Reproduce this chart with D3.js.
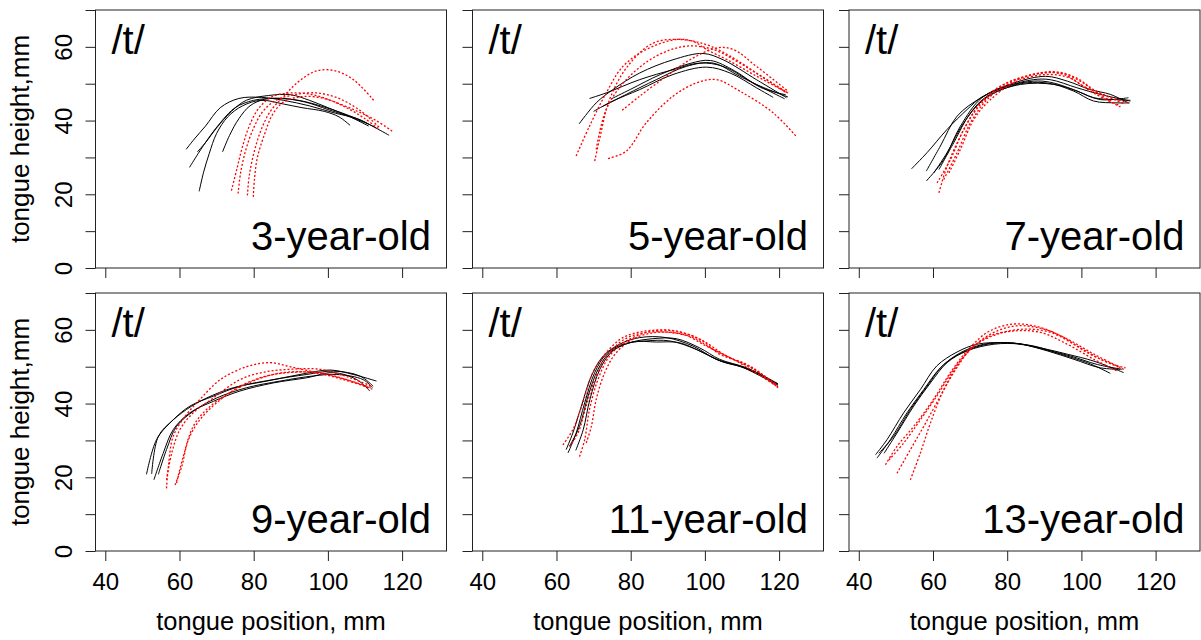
<!DOCTYPE html>
<html>
<head>
<meta charset="utf-8">
<script src="https://cdn.jsdelivr.net/npm/d3@7"></script>
<style>
    body { margin: 0; background: #fff; }
    #wrapper { width: 1201px; height: 640px; }
</style>
</head>
<body>
<div id="wrapper"></div>
<script>
const ageLabels = ['3-year-old', '5-year-old', '7-year-old', '9-year-old', '11-year-old', '13-year-old']
const soundLabel = '/t/'
const xTicks = [40, 60, 80, 100, 120]
const yTicks = [0, 10, 20, 30, 40, 50, 60, 70]
const yTickLabels = [0, 20, 40, 60]

// [tongue position, tongue height] in mm
const age3Black = [
    [[61.8, 32.2], [64, 35], [67, 38.5], [71, 43.5], [76, 46], [82, 46.3], [88, 45.5], [95, 44], [102, 42], [108, 40.5], [112, 38.5], [116.5, 36]],
    [[62.7, 27.3], [65, 31], [68, 35.5], [71.5, 40], [75, 43.5], [80, 45.5], [86, 46], [92, 45.5], [98, 44], [104, 42], [109, 40], [113, 38]],
    [[65.3, 20.8], [66.5, 26], [68, 31], [70, 36.5], [73, 41], [77, 44], [82, 45.5], [88, 44.5], [93, 43.5], [99, 42.5], [103, 41], [106, 38.7]],
    [[64.8, 31.5], [67, 34], [70, 38], [74, 42.5], [78, 45.5], [84, 46.8], [90, 47], [95, 45.5], [100, 43.5], [106, 41], [111, 38.5]],
    [[71.6, 31.5], [73.5, 36], [76, 40.5], [79, 44], [83, 45.8], [88, 46], [94, 45], [100, 43], [106, 41], [111, 39]]
]
const age3Red = [
    [[74, 21], [75.5, 27], [77, 33], [79, 39], [81.5, 43.5], [85, 46.5], [90, 47.5], [96, 47], [102, 45], [108, 42.5], [113, 40], [117.5, 37]],
    [[75.8, 20.2], [76.5, 26], [78, 32.5], [80, 38], [82.5, 42.5], [86, 45.5], [91, 47], [97, 47.5], [103, 46], [109, 42.5], [114, 38]],
    [[78.3, 19.7], [78.8, 25], [80, 31], [82, 37.5], [84.5, 42.5], [88, 46.5], [92, 50.5], [97, 53.5], [102, 53.5], [107, 51], [112.5, 45.3]],
    [[79.9, 19.3], [80.2, 24], [81, 30], [83, 36.5], [85, 41.5], [88, 45], [93, 46.5], [99, 46], [105, 43.5], [110, 40.5], [114, 37.5]]
]

const age5Black = [
    [[66.1, 39.1], [70.7, 44.8], [75.2, 48.4], [82.4, 52.9], [91.4, 56.5], [99.5, 58.2], [104.9, 56.5], [113.9, 51.1], [122, 46.2]],
    [[68.9, 46], [73.4, 47.5], [82.4, 51.1], [91.4, 53.8], [98.6, 55.6], [104.9, 54.7], [113.9, 49.8], [122.4, 46.4]],
    [[70, 42.5], [75.2, 45.3], [82.4, 48.4], [91.4, 52.5], [100.4, 54.5], [106.8, 52.9], [113.9, 48.9], [118.4, 46.3]],
    [[72.5, 43.9], [78.8, 47.1], [86.9, 51.1], [95, 54.7], [102.2, 55.6], [109.4, 52], [121.5, 45.9]],
    [[74.8, 45.9], [80, 48.5], [88, 52.5], [96, 55.5], [101.5, 56.3], [108, 53.5], [115, 49], [121.8, 47]]
]
const age5Red = [
    [[65.3, 30.4], [68.9, 38.5], [73.4, 47.5], [77.9, 54.7], [84.2, 59.3], [92.3, 62], [96.8, 61.5], [100.4, 59.3], [106, 56.5], [114, 52], [122.4, 47.5]],
    [[70.3, 29], [71.6, 34.9], [74.3, 45.7], [79, 54.5], [86, 61], [93.2, 62], [100.4, 60.6], [106.8, 57.5], [113.9, 52.9], [122.4, 47.5]],
    [[73.9, 29.7], [78.8, 31.7], [84.2, 39.4], [91.4, 46.6], [97.7, 50.2], [103.1, 51.1], [109.4, 48], [118.4, 42.1], [124.8, 35.5]],
    [[77.7, 42.8], [82.4, 46.6], [89.6, 52], [96, 56.5], [103.1, 59.7], [107.6, 59.3], [113.9, 54.7], [122.4, 48]],
    [[70.7, 32.2], [73.4, 43], [78.8, 51.1], [86.9, 57.5], [95, 60.2], [102.2, 59.3], [109.4, 55.6], [122, 47.5]]
]

const age7Black = [
    [[54.2, 26.9], [58.4, 31.3], [63.8, 37.6], [69.2, 43], [73.2, 46.4], [79.9, 49.3], [87.1, 50.7], [91.6, 50.4], [97.9, 48.4], [103.3, 46.2], [108.7, 45.7], [113.2, 45.5]],
    [[58.2, 26.3], [62, 33.1], [66.5, 41.2], [72.8, 46.1], [79.9, 49.3], [87.1, 51.1], [91.6, 51.1], [98.8, 48.9], [105.1, 47.1], [113.2, 45.3]],
    [[58.2, 23.6], [62.9, 29.4], [67.4, 38.5], [73.2, 46.2], [81.8, 50.2], [90.4, 52], [96.2, 50.7], [102.4, 48.4], [107.8, 47.1], [112.7, 44.8]],
    [[60.2, 25.8], [63.8, 31.3], [68.3, 39.4], [73.7, 45.7], [82.7, 49.8], [90.8, 50.2], [97.9, 48], [103.3, 45.3], [109.6, 44.8], [113, 44.8]],
    [[61.6, 26.7], [65.6, 34], [70.1, 42.1], [74.6, 46.6], [83.6, 49.8], [92.6, 49.8], [98.8, 48], [105.1, 45.7], [112.7, 46.2]]
]
const age7Red = [
    [[61.6, 20.4], [63.8, 27.6], [67.4, 35.8], [71, 42.1], [74.6, 46.2], [79.9, 50.2], [87.1, 52.5], [94.4, 52.9], [99.7, 50.7], [104.2, 47.5], [110.5, 43.9]],
    [[61.1, 23.1], [64.7, 29.4], [68.3, 37.6], [72.8, 44.8], [78.1, 49.3], [85.3, 52], [92.6, 53.3], [98.8, 51.5], [103.3, 48.4], [111.8, 44.4]],
    [[62.9, 24], [66.5, 31.3], [70.1, 39.4], [74.6, 45.7], [80.8, 50.2], [88.9, 52.9], [95.2, 52.5], [100.6, 49.3], [106.9, 46.6], [112.7, 44.8]],
    [[64.3, 25.8], [67.4, 32.2], [71, 40.3], [75.5, 45.7], [82.7, 50.7], [90.8, 52.5], [97, 51.5], [102.4, 48], [110.5, 43.7]]
]

const age9Black = [
    [[51.1, 20.8], [53.8, 30.2], [57.4, 34.7], [61.9, 38.4], [67.3, 41.5], [74.5, 44.3], [83.5, 46.1], [92.5, 47.9], [100.6, 49.1], [106.8, 47.9], [113.1, 46.1]],
    [[52.5, 20.9], [54.3, 31.1], [58.3, 35.6], [62.8, 39.3], [69.1, 42], [76.3, 44.7], [85.3, 46.5], [94.3, 47.9], [101.5, 48.8], [108.6, 47.5], [112.2, 44.7]],
    [[53.1, 19.3], [55.6, 26.5], [58.3, 32.9], [62.8, 37.5], [69.1, 40.6], [76.3, 43.4], [85.3, 45.6], [94.3, 47], [101.5, 48.4], [107.8, 46.5], [111.3, 43.4]],
    [[54.3, 20.8], [56.5, 27.5], [59.2, 33.8], [63.7, 37.9], [70, 41.5], [78.1, 44.3], [87.1, 46.1], [96.1, 47.5], [102.4, 47.9], [109.5, 46.5], [112, 44.3]]
]
const age9Red = [
    [[56.5, 17], [57, 22.9], [58.3, 31.1], [61.5, 36.5], [65.5, 41.1], [71, 46.5], [78.1, 50], [84.4, 51.1], [89.8, 50], [97, 48.4], [105, 46.5], [112.2, 43.8]],
    [[58.8, 17.9], [60.6, 22.9], [62.4, 30.2], [65.5, 35.6], [70, 40.2], [76.3, 44.7], [83.5, 47.5], [90.7, 48.5], [97.9, 48.4], [105, 46.5], [111.8, 44.3]],
    [[56.5, 19.3], [57.9, 26.5], [60.1, 32.9], [63.7, 37.5], [69.1, 41.5], [76.3, 46.5], [82.6, 48.5], [89.8, 49.3], [97.9, 49.3], [106, 47], [111.8, 44.7]],
    [[59.2, 18.4], [61, 25.6], [63.7, 33.8], [67.3, 38.4], [73.6, 42.9], [80.8, 46.5], [88, 48.4], [96.1, 48.4], [104.2, 46.5], [111.3, 44.3]]
]

const age11Black = [
    [[62.6, 27.5], [64.4, 32], [66.7, 39.3], [69.4, 47.5], [72.6, 52.9], [77, 56.1], [82.4, 57.9], [89.6, 57.9], [96.8, 55.6], [103.1, 52], [109.3, 50.2], [114.7, 47.9], [119.7, 45.2]],
    [[63.1, 26.6], [65.3, 32], [67.6, 40.2], [70.3, 48.4], [73.4, 53.4], [77.9, 56.1], [84.2, 57], [90.5, 57], [97.7, 54.7], [104, 51.6], [110.2, 49.8], [119.7, 44.9]],
    [[63.5, 28.4], [66.2, 33.8], [68.5, 42], [71.2, 49.3], [74.3, 53.8], [79.7, 56.5], [86, 57.6], [92.3, 57.6], [98.6, 55.1], [104, 52], [111.2, 49.7], [119.7, 45.4]],
    [[65.2, 27.3], [67.2, 32.9], [69, 41.1], [71.7, 49.3], [75.2, 54.3], [80.6, 56.7], [86.9, 56.7], [93.2, 56.5], [99.5, 53.8], [104.9, 51.3], [112.1, 49.3], [119.7, 45.2]]
]
const age11Red = [
    [[61.7, 28.8], [64.4, 32.9], [67.1, 40.2], [69.8, 48.4], [73.4, 53.8], [77.9, 57.9], [84.2, 59.7], [91.4, 59.7], [98.6, 57.5], [104, 53.4], [111.2, 50.6], [119.7, 44.5]],
    [[66.2, 25.6], [67.6, 30.2], [68.9, 38.4], [71.2, 46.6], [74.3, 52.9], [78.8, 57], [86, 59.7], [92.3, 59.7], [99.5, 57], [105.8, 52.9], [113, 49.7], [119.7, 44.3]],
    [[68, 29.3], [69.4, 33.8], [70.7, 41.1], [73, 48.4], [76.1, 53.8], [80.6, 57.5], [86.9, 59.3], [94.1, 58.8], [100.4, 55.6], [106.7, 52.5], [113.9, 48.9], [119.3, 45.2]],
    [[63.5, 28.4], [65.8, 32], [68, 39.3], [70.7, 47.5], [73.9, 53.4], [78.4, 57.5], [84.2, 59.3], [90.5, 59.3], [96.8, 57.9], [102.2, 54.7], [109.3, 51.1], [119.3, 44.7]]
]

const age13Black = [
    [[44.5, 26.1], [47.6, 30.2], [52.1, 37.5], [56.6, 43.8], [61, 50.2], [66.5, 54], [71.9, 56.1], [79.1, 56.5], [87.2, 55.6], [94.4, 53.4], [101.6, 51.1], [107.8, 48.2]],
    [[44.9, 25.2], [48.5, 30.2], [53, 37.5], [57.5, 43.8], [62, 49.7], [67.4, 53.8], [73.7, 56.1], [80.9, 56.5], [89, 55.1], [96.2, 53.4], [103.4, 51.5], [111.4, 48.4]],
    [[45.4, 26.5], [49.4, 31.1], [53.9, 38.4], [58.4, 44.7], [62.9, 50.6], [68.3, 54], [74.6, 56.1], [81.8, 56.4], [89.9, 54.7], [97.1, 52.9], [104.3, 50.6], [111, 49.3]],
    [[46.8, 26.5], [50.3, 32], [54.8, 39.3], [59.3, 45.6], [63.8, 51.1], [69.2, 54.3], [76.4, 56.1], [83.6, 56.1], [90.8, 54.3], [98, 52], [105.1, 49.7], [110.5, 49.3]]
]
const age13Red = [
    [[47.2, 23.4], [50.3, 28.4], [54.8, 33.8], [60.1, 41.1], [64.7, 48.4], [69.2, 54.3], [74.6, 59.3], [80.9, 61.5], [87.2, 61.1], [94.4, 58.4], [101.6, 53.8], [108.7, 50.6], [111.9, 49.7]],
    [[50.3, 21.1], [53.9, 27.5], [57.5, 33.8], [61, 40.2], [65.6, 48.4], [70.1, 54.7], [76.4, 59.3], [82.7, 61.1], [89.9, 60.2], [96.2, 57.5], [103.4, 53.4], [111.4, 49.3]],
    [[53.9, 19.3], [56.6, 26.6], [59.3, 34.7], [62.5, 42.9], [66.5, 50.2], [71, 55.6], [77.3, 58.8], [84.5, 60.2], [91.7, 59.3], [98.9, 55.6], [105.2, 52], [110.5, 49.7]],
    [[48.1, 24.7], [52.1, 29.3], [56.6, 35.6], [61, 42], [65.6, 49.3], [70.1, 54.7], [75.5, 58.4], [81.8, 59.7], [89, 59.3], [96.2, 56.1], [103.4, 52], [109.7, 48.8]]
]

const blackCurves = [age3Black, age5Black, age7Black, age9Black, age11Black, age13Black]
const redCurves = [age3Red, age5Red, age7Red, age9Red, age11Red, age13Red]


function renderPanels() {
    const dimensions = {
        width: 1201,
        height: 640,
        panelLefts: [95.5, 472.5, 849],
        panelTops: [10, 293],
        panelWidth: 351,
        panelHeight: 258,
        tickSize: 10
    }

    const fontFamily = '"Liberation Sans", Arial, sans-serif'

    const wrapper = d3.select('#wrapper')
        .append('svg')
        .attr('width', dimensions.width)
        .attr('height', dimensions.height)
        .style('font-family', fontFamily)

    const xScale = d3.scaleLinear()
        .domain([37.36, 37.36 + dimensions.panelWidth / 3.71])
        .range([0, dimensions.panelWidth])

    const yScale = d3.scaleLinear()
        .domain([0, 70])
        .range([dimensions.panelHeight, 0])

    const lineGenerator = d3.line()
        .x(d => xScale(d[0]))
        .y(d => yScale(d[1]))
        .curve(d3.curveCatmullRom.alpha(0.5))

    ageLabels.forEach((age, i) => {
        const col = i % 3
        const row = Math.floor(i / 3)

        const bounds = wrapper.append('g')
            .attr('transform', `translate(${dimensions.panelLefts[col]}, ${dimensions.panelTops[row]})`)

        bounds.append('defs').append('clipPath')
            .attr('id', `clip-${i}`)
            .append('rect')
            .attr('width', dimensions.panelWidth)
            .attr('height', dimensions.panelHeight)

        // y axis ticks (labels only on the left column)
        const yAxisGenerator = d3.axisLeft(yScale)
            .tickValues(yTicks)
            .tickSize(dimensions.tickSize)
            .tickFormat(d => col === 0 && yTickLabels.includes(d) ? d : '')
        const yAxis = bounds.append('g').call(yAxisGenerator)
        yAxis.select('.domain').remove()
        yAxis.selectAll('line').attr('stroke', '#222')
        yAxis.selectAll('text')
            .attr('transform', 'rotate(-90)')
            .attr('x', 0)
            .attr('y', -23.5)
            .attr('dy', 0)
            .attr('text-anchor', 'middle')
            .attr('fill', '#000')
            .style('font-size', '24px')
            .style('font-family', fontFamily)

        // x axis ticks (labels only on the bottom row)
        const xAxisGenerator = d3.axisBottom(xScale)
            .tickValues(xTicks)
            .tickSize(dimensions.tickSize)
            .tickFormat(d => row === 1 ? d : '')
        const xAxis = bounds.append('g')
            .attr('transform', `translate(0, ${dimensions.panelHeight})`)
            .call(xAxisGenerator)
        xAxis.select('.domain').remove()
        xAxis.selectAll('line').attr('stroke', '#222')
        xAxis.selectAll('text')
            .attr('y', 39)
            .attr('dy', 0)
            .attr('fill', '#000')
            .style('font-size', '24px')
            .style('font-family', fontFamily)

        const curves = bounds.append('g').attr('clip-path', `url(#clip-${i})`)

        curves.selectAll('.black')
            .data(blackCurves[i])
            .join('path')
            .attr('class', 'black')
            .attr('d', lineGenerator)
            .attr('fill', 'none')
            .attr('stroke', '#000')
            .attr('stroke-width', 1)

        curves.selectAll('.red')
            .data(redCurves[i])
            .join('path')
            .attr('class', 'red')
            .attr('d', lineGenerator)
            .attr('fill', 'none')
            .attr('stroke', '#ff0000')
            .attr('stroke-width', 1.3)
            .attr('stroke-dasharray', '2,2')

        bounds.append('rect')
            .attr('width', dimensions.panelWidth)
            .attr('height', dimensions.panelHeight)
            .attr('fill', 'none')
            .attr('stroke', '#222')
            .attr('stroke-width', 1)

        bounds.append('text')
            .attr('x', 16)
            .attr('y', 44)
            .style('font-size', '40px')
            .text(soundLabel)

        bounds.append('text')
            .attr('x', dimensions.panelWidth - 15.5)
            .attr('y', dimensions.panelHeight - 18)
            .attr('text-anchor', 'end')
            .style('font-size', '40px')
            .text(age)

        if (row === 1) {
            bounds.append('text')
                .attr('x', dimensions.panelWidth / 2)
                .attr('y', dimensions.panelHeight + 79)
                .attr('text-anchor', 'middle')
                .style('font-size', '25.5px')
                .text('tongue position, mm')
        }

        if (col === 0) {
            bounds.append('text')
                .attr('transform', `translate(${-67}, ${dimensions.panelHeight / 2}) rotate(-90)`)
                .attr('text-anchor', 'middle')
                .style('font-size', '26px')
                .text('tongue height,mm')
        }
    })
}

renderPanels()
</script>
</body>
</html>
